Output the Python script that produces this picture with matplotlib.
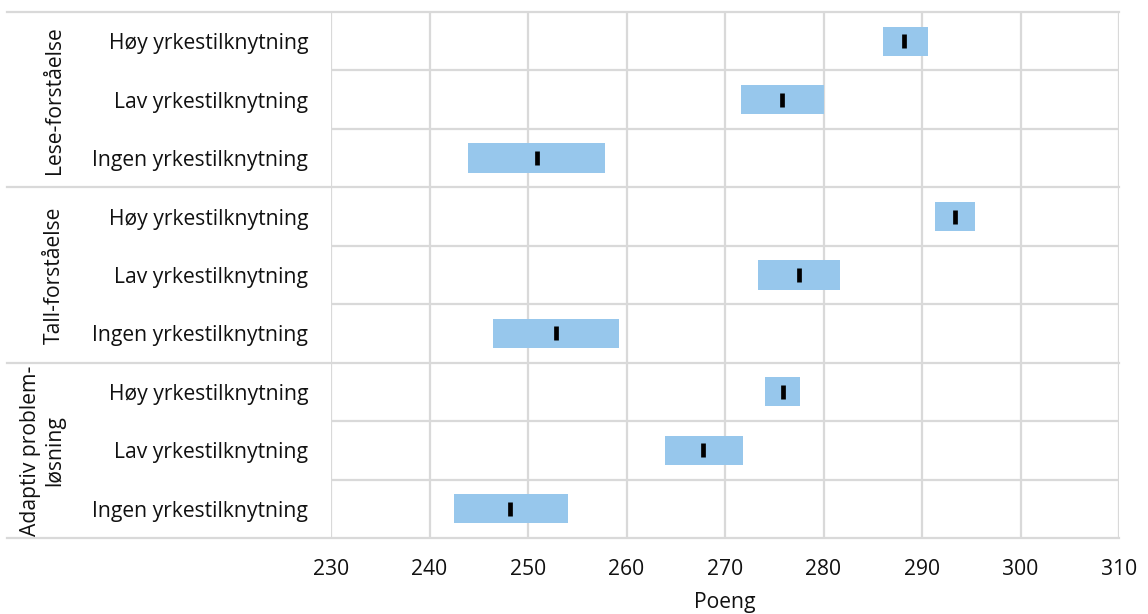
import matplotlib
matplotlib.use("Agg")
import matplotlib.pyplot as plt

plt.rcParams['font.family'] = ['Open Sans', 'DejaVu Sans']

groups = ["Lese-forståelse", "Tall-forståelse", "Adaptiv problem-\nløsning"]
categories = ["Høy yrkestilknytning", "Lav yrkestilknytning", "Ingen yrkestilknytning"]
lower = [286.0, 271.6, 243.9, 291.3, 273.3, 246.4, 274.1, 263.9, 242.5]
mean = [288.2, 275.8, 250.9, 293.3, 277.5, 252.8, 275.9, 267.8, 248.2]
upper = [290.6, 280.0, 257.8, 295.4, 281.7, 259.2, 277.6, 271.8, 254.1]
xticks = [230, 240, 250, 260, 270, 280, 290, 300, 310]
xlabel = "Poeng"

W, H = 1148, 614
fig = plt.figure(figsize=(W / 100, H / 100), dpi=100)
L, R, T, B = 331, 1119, 12, 538
ax = fig.add_axes([L / W, 1 - B / H, (R - L) / W, (B - T) / H])

bar_color = "#97c7ec"
grid_color = "#d9d9d9"
text_color = "#111111"
fs = 15.2

n = len(mean)
ys = list(range(n))
for y, lo, m, hi in zip(ys, lower, mean, upper):
    ax.barh(y, m - lo, left=lo, height=0.5, color=bar_color, edgecolor="none", zorder=3)
    ax.barh(y, hi - m, left=m, height=0.5, color=bar_color, edgecolor="none", zorder=3)
ax.plot(mean, ys, linestyle="none", marker="|", markersize=10, markeredgewidth=3.4,
        color="black", zorder=4)

ax.set_xlim(230, 310)
ax.set_ylim(n - 0.5, -0.5)
ax.set_xticks(xticks)
ax.set_xticklabels([str(t) for t in xticks], fontsize=fs, color=text_color)
ax.tick_params(axis="x", length=0, pad=15)
ax.set_yticks(ys)
ax.set_yticklabels(categories * len(groups), fontsize=fs, color=text_color)
ax.tick_params(axis="y", length=0, pad=16.5)
for s in ax.spines.values():
    s.set_visible(False)

for t in xticks:
    ax.axvline(t, color=grid_color, lw=1.6, zorder=1)

x_ext = (7 - L) / (R - L)
for b in range(n + 1):
    yb = b - 0.5
    if b % 3 == 0:
        ax.plot([x_ext, 1], [yb, yb], transform=ax.get_yaxis_transform(),
                color=grid_color, lw=1.6, clip_on=False, zorder=1)
    else:
        ax.axhline(yb, color=grid_color, lw=1.6, zorder=1)

gx = (65 - L) / (R - L)
for gi, g in enumerate(groups):
    yc = gi * 3 + 1
    ax.text(gx, yc, g, transform=ax.get_yaxis_transform(), rotation=90,
            ha="right", va="center", fontsize=fs, color=text_color,
            linespacing=1.2, multialignment="center")

ax.set_xlabel(xlabel, fontsize=fs, color=text_color, labelpad=9)

fig.savefig("out.png", dpi=100, facecolor="white")
